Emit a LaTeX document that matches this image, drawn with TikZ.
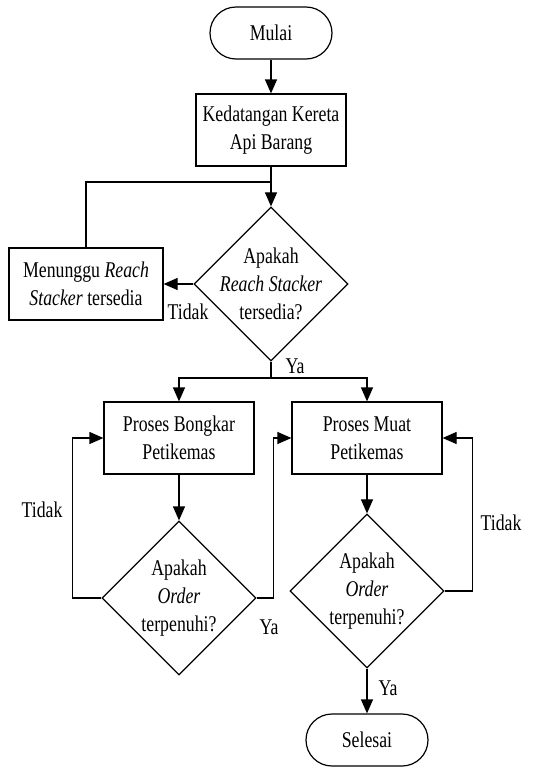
\documentclass[tikz,border=0pt]{standalone}
\usepackage{fontspec}
\setmainfont[FakeStretch=0.79]{Liberation Serif}
\usetikzlibrary{shapes.geometric,arrows.meta}
\tikzset{
  base/.style={draw, line width=1.2pt, align=center, inner sep=0pt, font=\fontsize{22.5}{28}\selectfont},
  term/.style={base, rectangle, rounded corners=26pt, minimum width=122pt, minimum height=52pt},
  proc/.style={base, rectangle, minimum width=150pt, minimum height=72pt},
  dec/.style={base, diamond, aspect=1, minimum width=154pt, minimum height=154pt},
  lbl/.style={font=\fontsize{22.5}{28}\selectfont, inner sep=0pt},
  ln/.style={line width=1.2pt},
  arr/.style={ln, -{Triangle[length=14pt,width=12pt]}}
}
\begin{document}
\begin{tikzpicture}[x=1pt,y=-1pt]
\useasboundingbox (0,0) rectangle (533,769);
\node[term] (start) at (271,33) {Mulai};
\node[proc] (arrive) at (271,130) {Kedatangan Kereta\\Api Barang};
\node[dec, label={[lbl, align=center]center:Apakah\\\textit{Reach Stacker}\\tersedia?}] (d1) at (271,284) {};
\node[proc, minimum width=154pt] (wait) at (86,284) {Menunggu \textit{Reach}\\\textit{Stacker} tersedia};
\node[proc] (unload) at (179,438) {Proses Bongkar\\Petikemas};
\node[proc] (load) at (367,438) {Proses Muat\\Petikemas};
\node[dec, label={[lbl, align=center]center:Apakah\\\textit{Order}\\terpenuhi?}] (d2) at (179,598) {};
\node[dec, label={[lbl, align=center]center:Apakah\\\textit{Order}\\terpenuhi?}] (d3) at (367,591) {};
\node[term] (end) at (367,740) {Selesai};
\coordinate (j1) at (271,182);
\coordinate (j2) at (271,378);
\draw[arr] (start) -- (arrive);
\draw[arr] (arrive) -- (d1);
\draw[ln] (wait.north) |- (j1);
\draw[arr] (d1.west) -- (wait.east);
\draw[ln] (d1.south) -- (j2);
\draw[arr] (j2) -| (unload.north);
\draw[arr] (j2) -| (load.north);
\draw[arr] (unload) -- (d2);
\draw[arr] (d2.west) -- ++(-29,0) |- (unload.west);
\draw[arr] (d2.east) -- ++(17,0) |- (load.west);
\draw[arr] (load) -- (d3);
\draw[arr] (d3.east) -- ++(28,0) |- (load.east);
\draw[arr] (d3) -- (end);
\node[lbl] (t1) at (188,312) {Tidak};
\node[lbl] (y1) at (295,366) {Ya};
\node[lbl] (t2) at (42,510) {Tidak};
\node[lbl] (y2) at (269,627) {Ya};
\node[lbl] (t3) at (501,523) {Tidak};
\node[lbl] (y3) at (388,688) {Ya};
\end{tikzpicture}
\end{document}
